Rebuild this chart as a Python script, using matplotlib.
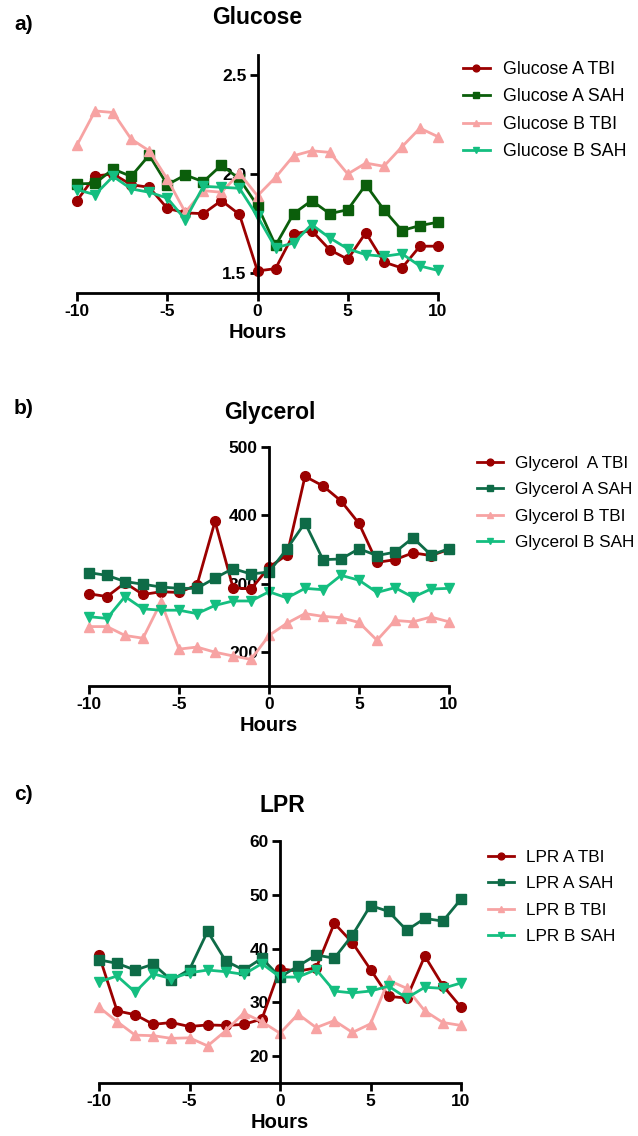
import matplotlib
matplotlib.use("Agg")
from matplotlib import pyplot as plt
import numpy as np

plt.rcParams['font.family'] = ['Liberation Sans', 'DejaVu Sans']
plt.rcParams['axes.unicode_minus'] = False

hours = list(range(-10, 11))

# glucose
glu_a_tbi = [1.866, 1.99, 2.0, 1.946, 1.933, 1.827, 1.804, 1.80, 1.866, 1.796, 1.511,
             1.523, 1.698, 1.715, 1.618, 1.57, 1.704, 1.556, 1.526, 1.636, 1.636]
glu_a_sah = [1.95, 1.953, 2.025, 1.988, 2.095, 1.946, 1.995, 1.961, 2.045, 1.975, 1.84,
             1.64, 1.80, 1.866, 1.80, 1.82, 1.946, 1.82, 1.715, 1.74, 1.757]
glu_b_tbi = [2.146, 2.318, 2.31, 2.176, 2.117, 1.975, 1.807, 1.916, 1.908, 2.003, 1.89,
             1.983, 2.092, 2.117, 2.109, 2.0, 2.055, 2.039, 2.137, 2.231, 2.188]
glu_b_sah = [1.921, 1.896, 1.988, 1.925, 1.908, 1.879, 1.77, 1.938, 1.933, 1.928, 1.786,
             1.628, 1.652, 1.745, 1.678, 1.623, 1.593, 1.585, 1.598, 1.536, 1.514]

# glycerol
gly_a_tbi = [285, 281, 301, 284, 288, 287, 298, 391, 294, 292, 324,
             342, 457, 443, 421, 388, 331, 335, 345, 341, 350]
gly_a_sah = [316, 312, 303, 299, 295, 293, 293, 308, 322, 314, 317,
             351, 389, 335, 336, 351, 341, 346, 367, 342, 351]
gly_b_tbi = [237, 237, 224, 220, 273, 204, 207, 199.5, 194, 189, 224,
             242, 256, 252, 250, 243, 217, 246, 244, 251, 244]
gly_b_sah = [251.5, 249, 281, 263, 261, 261, 256, 268, 274.5, 274.5, 288,
             279, 293, 291, 312, 305, 287, 294, 280, 292, 293]

# lpr
lpr_a_tbi = [38.75, 28.4, 27.7, 25.9, 26.25, 25.5, 25.8, 25.7, 25.9, 26.9, 36.25,
             35.8, 36.4, 44.7, 41.1, 36.1, 31.1, 30.8, 38.6, 33.1, 29.1]
lpr_a_sah = [37.9, 37.25, 36.0, 37.1, 34.1, 36.1, 43.2, 37.7, 36.0, 38.2, 34.7,
             36.75, 38.8, 38.2, 42.5, 48.0, 46.9, 43.4, 45.6, 45.1, 49.2]
lpr_b_tbi = [29.1, 26.4, 23.9, 23.8, 23.3, 23.4, 21.9, 24.7, 28.0, 26.4, 24.25,
             27.8, 25.3, 26.6, 24.4, 26.0, 34.1, 32.6, 28.4, 26.25, 25.7]
lpr_b_sah = [33.8, 34.9, 31.9, 35.3, 34.4, 35.5, 36.0, 35.7, 35.2, 37.2, 34.7,
             34.7, 36.1, 32.1, 31.75, 32.1, 33.0, 30.8, 32.8, 32.6, 33.6]

red = '#9B0000'
dgreen = '#0B5E0B'
tgreen = '#0E6B47'
pink = '#F7A3A3'
teal = '#14BE80'

W, H = 638, 1136
fig = plt.figure(figsize=(W / 100, H / 100), dpi=100)


def box(l, r, t, b):
    return [l / W, 1 - b / H, (r - l) / W, (b - t) / H]


def panel(rect, series, ylim, yticks, yfmt, title, title_xy, letter, letter_y,
          leg_xy, leg_fs, leg_ls):
    ax = fig.add_axes(rect)
    for vals, lab, col, mk in series:
        ax.plot(hours, vals, color=col, marker=mk, lw=2, ms=7, label=lab,
                markeredgecolor=col, clip_on=False)
    ax.set_xlim(-10, 10)
    ax.set_ylim(*ylim)
    ax.set_xticks([-10, -5, 0, 5, 10])
    ax.set_yticks(yticks)
    ax.set_yticklabels([yfmt.format(v) for v in yticks])
    for s in ['top', 'right']:
        ax.spines[s].set_visible(False)
    ax.spines['left'].set_position(('data', 0))
    ax.spines['left'].set_linewidth(2)
    ax.spines['bottom'].set_linewidth(2)
    ax.tick_params(width=2, length=6, labelsize=12.5, pad=2)
    for t in ax.get_xticklabels() + ax.get_yticklabels():
        t.set_fontweight('bold')
    ax.set_xlabel('Hours', fontsize=14.5, fontweight='bold', labelpad=3)
    fig.text(title_xy[0] / W, 1 - title_xy[1] / H, title, fontsize=16.5,
             fontweight='bold', ha='center', va='center')
    fig.text(14 / W, 1 - letter_y / H, letter, fontsize=15, fontweight='bold',
             ha='left', va='center')
    ax.legend(loc='upper left', bbox_to_anchor=(leg_xy[0] / W, 1 - leg_xy[1] / H),
              bbox_transform=fig.transFigure, frameon=False, fontsize=leg_fs,
              borderpad=0, borderaxespad=0, handlelength=1.5, handletextpad=0.75,
              labelspacing=leg_ls, markerscale=0.7)
    return ax


panel(box(77, 438, 55, 293),
      [(glu_a_tbi, 'Glucose A TBI', red, 'o'),
       (glu_a_sah, 'Glucose A SAH', dgreen, 's'),
       (glu_b_tbi, 'Glucose B TBI', pink, '^'),
       (glu_b_sah, 'Glucose B SAH', teal, 'v')],
      (1.4, 2.6), [1.5, 2.0, 2.5], '{:.1f}', 'Glucose', (257, 18), 'a)', 25,
      (463, 61), 12.8, 0.59)

panel(box(89, 449, 447, 686),
      [(gly_a_tbi, 'Glycerol  A TBI', red, 'o'),
       (gly_a_sah, 'Glycerol A SAH', tgreen, 's'),
       (gly_b_tbi, 'Glycerol B TBI', pink, '^'),
       (gly_b_sah, 'Glycerol B SAH', teal, 'v')],
      (150, 500), [200, 300, 400, 500], '{:d}', 'Glycerol', (270, 412), 'b)', 408,
      (477, 456), 12.3, 0.66)

panel(box(99, 461, 841, 1083),
      [(lpr_a_tbi, 'LPR A TBI', red, 'o'),
       (lpr_a_sah, 'LPR A SAH', tgreen, 's'),
       (lpr_b_tbi, 'LPR B TBI', pink, '^'),
       (lpr_b_sah, 'LPR B SAH', teal, 'v')],
      (15, 60), [20, 30, 40, 50, 60], '{:d}', 'LPR', (282, 806), 'c)', 795,
      (488, 850), 12.3, 0.66)

fig.savefig('out.png', dpi=100)
